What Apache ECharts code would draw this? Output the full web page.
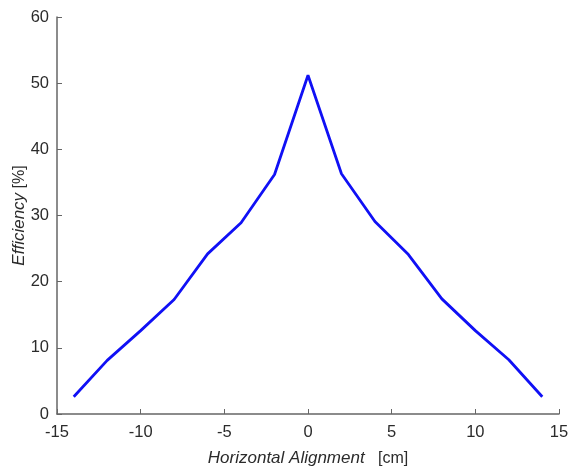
<!DOCTYPE html>
<html>
<head>
<meta charset="utf-8">
<script src="https://cdn.jsdelivr.net/npm/echarts@6/dist/echarts.min.js"></script>
<style>
  html, body { margin: 0; padding: 0; background: #fff; }
  #chart { width: 571px; height: 466px; }
</style>
</head>
<body>
<div id="chart"></div>
<script>
// horizontal offset [cm] and measured efficiency [%]
const offsets = [-14, -12, -10, -8, -6, -4, -2, 0, 2, 4, 6, 8, 10, 12, 14];
const efficiency = [2.6, 8.1, 12.6, 17.3, 24.2, 28.9, 36.2, 51.2, 36.3, 29.1, 24.1, 17.4, 12.6, 8.2, 2.6];

const axisColor = '#666';
const textColor = '#2b2b2b';
const fontFamily = 'Liberation Sans, Arial, sans-serif';

let points = [];
for (let i = 0; i < offsets.length; i++) {
  points.push([offsets[i], efficiency[i]]);
}

let myChart = echarts.init(document.getElementById('chart'));
let option = {
  animation: false,
  grid: { left: 57, right: 12, top: 17, bottom: 52, containLabel: false, outerBoundsMode: 'none' },
  xAxis: {
    type: 'value',
    min: -15,
    max: 15,
    interval: 5,
    name: '{i|Horizontal Alignment}   [cm]',
    nameLocation: 'middle',
    nameGap: 36,
    nameMoveOverlap: false,
    nameTextStyle: {
      color: textColor,
      fontSize: 16,
      fontFamily: fontFamily,
      rich: { i: { fontStyle: 'italic', fontSize: 17, fontFamily: fontFamily, color: textColor } }
    },
    axisLine: { show: true, onZero: false, lineStyle: { color: axisColor, width: 1.5 } },
    axisTick: { show: true, inside: true, length: 5, lineStyle: { color: axisColor } },
    axisLabel: { color: textColor, fontSize: 16.5, fontFamily: fontFamily, margin: 10 },
    splitLine: { show: false }
  },
  yAxis: {
    type: 'value',
    min: 0,
    max: 60,
    interval: 10,
    name: '{i|Efficiency} [%]',
    nameLocation: 'middle',
    nameGap: 29,
    nameMoveOverlap: false,
    nameRotate: 90,
    nameTextStyle: {
      color: textColor,
      fontSize: 16,
      fontFamily: fontFamily,
      rich: { i: { fontStyle: 'italic', fontSize: 17, fontFamily: fontFamily, color: textColor } }
    },
    axisLine: { show: true, onZero: false, lineStyle: { color: axisColor, width: 1.5 } },
    axisTick: { show: true, inside: true, length: 5, lineStyle: { color: axisColor } },
    axisLabel: { color: textColor, fontSize: 16.5, fontFamily: fontFamily, margin: 8 },
    splitLine: { show: false }
  },
  series: [
    {
      type: 'line',
      data: points,
      showSymbol: false,
      lineStyle: { color: '#1010f5', width: 2.8 }
    }
  ]
};
myChart.setOption(option);
</script>
</body>
</html>
